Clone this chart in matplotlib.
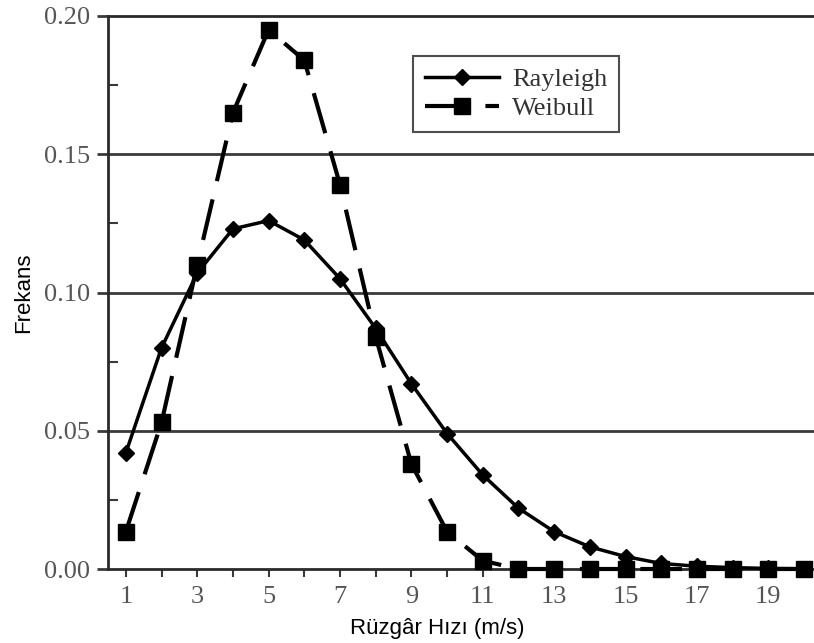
import matplotlib
matplotlib.use("Agg")
import matplotlib.pyplot as plt
from matplotlib.ticker import MultipleLocator

# hız değerleri (m/s)
hiz = list(range(1, 21))

rayleigh = [0.042, 0.080, 0.107, 0.123, 0.126, 0.119, 0.105, 0.087, 0.067, 0.049,
            0.034, 0.022, 0.0135, 0.008, 0.0045, 0.002, 0.001, 0.0005, 0.0002, 0.0001]
weibull = [0.0135, 0.053, 0.110, 0.165, 0.195, 0.184, 0.139, 0.084, 0.038, 0.0135,
           0.003, 0.0, 0.0, 0.0, 0.0, 0.0, 0.0, 0.0, 0.0, 0.0]

x_etiketleri = ["1", "3", "5", "7", "9", "11", "13", "15", "17", "19"]
y_etiketleri = ["0.00", "0.05", "0.10", "0.15", "0.20"]

serif = "Liberation Serif"
gri = "#555555"

fig = plt.figure(figsize=(8.14, 6.43), dpi=100)
ax = fig.add_axes([108 / 814, 1 - 569 / 643, 1 - 108 / 814, (569 - 16) / 643])

for y in [0.05, 0.10, 0.15]:
    ax.axhline(y, color="#3a3a3a", lw=2, zorder=1)

ax.plot(hiz, rayleigh, color="black", lw=2.5, marker="D", markersize=8,
        label="Rayleigh", zorder=3, clip_on=False)
ax.plot(hiz, weibull, color="black", lw=3, ls=(0, (10, 4.5)), marker="s",
        markersize=12, label="Weibull", zorder=4, clip_on=False)

ax.set_xlim(0.5, 20.28)
ax.set_ylim(0, 0.20)

ax.set_xticks([1, 3, 5, 7, 9, 11, 13, 15, 17, 19])
ax.set_xticklabels(x_etiketleri, fontfamily=serif, fontsize=19, color=gri)
ax.xaxis.set_minor_locator(MultipleLocator(1))
ax.tick_params(axis="x", which="both", direction="out", length=6, width=1.5,
               color="#3a3a3a", pad=6)

ax.set_yticks([0, 0.05, 0.10, 0.15, 0.20])
ax.set_yticklabels(y_etiketleri, fontfamily=serif, fontsize=19, color=gri)
ax.yaxis.set_minor_locator(MultipleLocator(0.025))
ax.tick_params(axis="y", which="major", direction="out", length=8, width=2,
               color="#3a3a3a", pad=5)
ax.tick_params(axis="y", which="minor", direction="in", length=7, width=1.5,
               color="#3a3a3a")

ax.spines["right"].set_visible(False)
for s in ["left", "bottom", "top"]:
    ax.spines[s].set_linewidth(2)
    ax.spines[s].set_color("#2a2a2a")

ax.set_xlabel("Rüzgâr Hızı (m/s)", fontfamily="Liberation Sans", fontsize=16)
ax.xaxis.set_label_coords((437 - 108) / 706, -0.088)
ax.set_ylabel("Frekans", fontfamily="Liberation Sans", fontsize=16, labelpad=7)

leg = ax.legend(loc="upper left", bbox_to_anchor=((413 - 108) / 706, 1 - (56 - 16) / 553),
                prop={"family": serif, "size": 19}, frameon=True, fancybox=False,
                handlelength=2.8, borderpad=0.45, labelspacing=0.2, handletextpad=0.5,
                borderaxespad=0)
leg.get_frame().set_edgecolor("#222222")
leg.get_frame().set_linewidth(1.5)
for t in leg.get_texts():
    t.set_color("#333333")

fig.savefig("out.png", dpi=100)
